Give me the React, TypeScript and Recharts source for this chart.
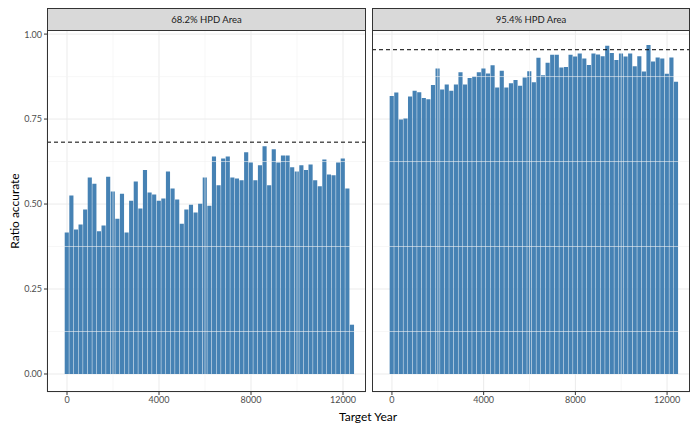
import React from "react";
import { BarChart, Bar, XAxis, YAxis, CartesianGrid, ReferenceLine } from "recharts";

const years: number[] = Array.from({ length: 63 }, (_, i) => i * 200);
const ratio68: number[] = [
  0.416, 0.525, 0.425, 0.44, 0.484, 0.578, 0.56, 0.42, 0.437, 0.58, 0.537, 0.457, 0.53, 0.416, 0.51, 0.566,
  0.487, 0.6, 0.534, 0.528, 0.51, 0.516, 0.596, 0.546, 0.513, 0.442, 0.484, 0.498, 0.475, 0.501, 0.578,
  0.495, 0.64, 0.555, 0.634, 0.64, 0.578, 0.575, 0.57, 0.652, 0.622, 0.57, 0.614, 0.67, 0.555, 0.661, 0.622,
  0.643, 0.643, 0.608, 0.596, 0.614, 0.6, 0.616, 0.57, 0.552, 0.631, 0.587, 0.585, 0.622, 0.634, 0.546, 0.145,
];
const ratio95: number[] = [
  0.818, 0.828, 0.749, 0.752, 0.816, 0.833, 0.829, 0.812, 0.808, 0.85, 0.899, 0.837, 0.852, 0.833, 0.852, 0.888,
  0.852, 0.871, 0.875, 0.888, 0.899, 0.884, 0.908, 0.843, 0.892, 0.843, 0.855, 0.865, 0.848, 0.872, 0.891,
  0.858, 0.93, 0.879, 0.916, 0.939, 0.939, 0.902, 0.903, 0.939, 0.934, 0.943, 0.928, 0.909, 0.943, 0.94, 0.935,
  0.966, 0.944, 0.924, 0.943, 0.934, 0.943, 0.905, 0.935, 0.89, 0.968, 0.919, 0.931, 0.928, 0.883, 0.931, 0.86,
];
const nominal = [0.682, 0.954];
const titles = ["68.2% HPD Area", "95.4% HPD Area"];
const xTicks = [0, 4000, 8000, 12000];
const xMinor = [2000, 6000, 10000];
const yTicks = [0, 0.25, 0.5, 0.75, 1];
const yMinor = [0.125, 0.375, 0.625, 0.875];

const FONT = "Lato, 'Open Sans', sans-serif";
const tickStyle = { fontSize: 9, fill: "#4d4d4d", fontFamily: FONT };

function Panel({ values, line, showY, left, width, title }: any) {
  const data = years.map((y, i) => ({ year: y, v: values[i] }));
  const plotLeft = showY ? 47 : left;
  const plotW = showY ? width - 47 : width;
  return (
    <>
      <div style={{ position: "absolute", left: showY ? 0 : left, top: 30 }}>
        <BarChart
          width={showY ? width : width}
          height={402}
          data={data}
          margin={{ top: 0, right: 0, left: showY ? 8 : 0, bottom: 10 }}
          barGap={0}
          barCategoryGap={0}
        >
          <CartesianGrid stroke="#ebebeb" strokeWidth={1} />
          {xMinor.map((m) => (
            <ReferenceLine key={"x" + m} x={m} stroke="#f2f2f2" strokeWidth={0.6} />
          ))}
          {yMinor.map((m) => (
            <ReferenceLine key={"y" + m} y={m} stroke="#f2f2f2" strokeWidth={0.6} />
          ))}
          <XAxis
            dataKey="year"
            type="number"
            domain={[-870, 13000]}
            ticks={xTicks}
            allowDataOverflow
            tick={tickStyle}
            tickSize={3}
            axisLine={false}
            tickLine={{ stroke: "#333" }}
            height={30}
          />
          <YAxis
            type="number"
            domain={[-0.053, 1.012]}
            ticks={yTicks}
            allowDataOverflow
            hide={!showY}
            width={showY ? 39 : 0}
            tick={tickStyle}
            tickSize={3}
            axisLine={false}
            tickLine={{ stroke: "#333" }}
            tickFormatter={(v: number) => v.toFixed(2)}
          />
          <Bar dataKey="v" fill="#4682b4" barSize={4.7} isAnimationActive={false} />
          <ReferenceLine y={line} stroke="#000" strokeDasharray="4 3" strokeWidth={1} />
        </BarChart>
      </div>
      <div
        style={{
          position: "absolute",
          left: plotLeft,
          top: 30,
          width: plotW,
          height: 362,
          border: "1px solid #333",
          boxSizing: "border-box",
          pointerEvents: "none",
        }}
      />
      <div
        style={{
          position: "absolute",
          left: plotLeft,
          top: 8,
          width: plotW,
          height: 23,
          background: "#d9d9d9",
          border: "1px solid #333",
          boxSizing: "border-box",
          fontSize: 9.5,
          color: "#1a1a1a",
          fontFamily: FONT,
          display: "flex",
          alignItems: "center",
          justifyContent: "center",
        }}
      >
        {title}
      </div>
    </>
  );
}

export default function App() {
  return (
    <div style={{ position: "relative", width: 700, height: 432, background: "#fff", margin: -8, fontFamily: FONT }}>
      <Panel values={ratio68} line={nominal[0]} showY left={0} width={366} title={titles[0]} />
      <Panel values={ratio95} line={nominal[1]} showY={false} left={372} width={318} title={titles[1]} />
      <div
        style={{
          position: "absolute",
          left: 6,
          top: 211,
          transform: "translate(-50%, -50%) rotate(-90deg)",
          marginLeft: 8,
          fontSize: 12,
          whiteSpace: "nowrap",
          color: "#000",
        }}
      >
        Ratio accurate
      </div>
      <div
        style={{
          position: "absolute",
          left: 368,
          top: 416,
          transform: "translate(-50%, -50%)",
          fontSize: 12,
          whiteSpace: "nowrap",
          color: "#000",
        }}
      >
        Target Year
      </div>
    </div>
  );
}
